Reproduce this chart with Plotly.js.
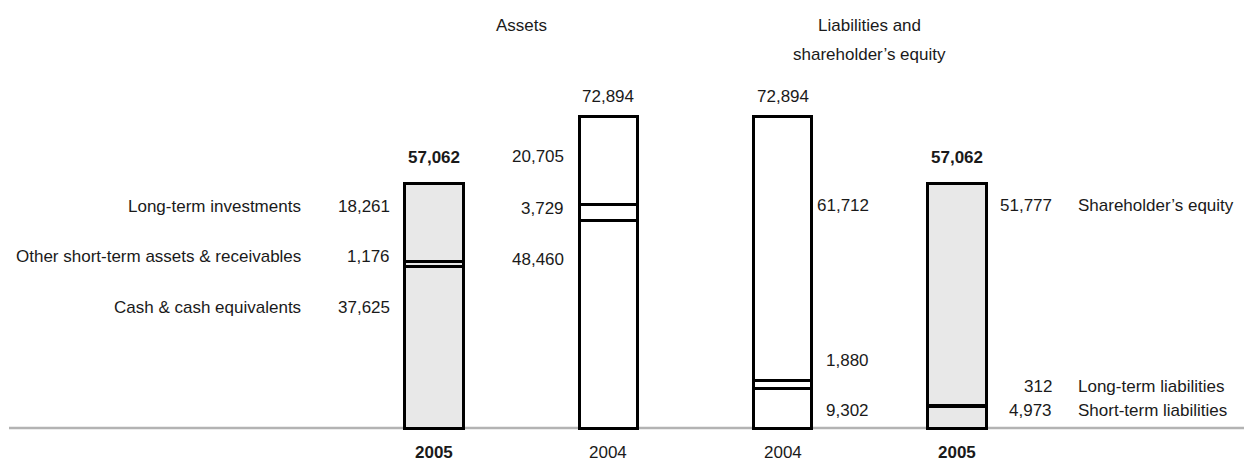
<!DOCTYPE html>
<html><head><meta charset="utf-8">
<script src="https://cdn.plot.ly/plotly-3.0.1.min.js"></script>
<style>html,body{margin:0;padding:0;background:#fff;overflow:hidden}#chart{width:1244px;height:461px}</style>
</head><body><div id="chart"></div><script>
// ---- data ----
const columnYears = ['2005', '2004', '2004', '2005'];
const assetCategories = ['Cash & cash equivalents', 'Other short-term assets & receivables', 'Long-term investments'];
const liabilityCategories = ['Short-term liabilities', 'Long-term liabilities', 'Shareholder’s equity'];
const assets2005 = [37625, 1176, 18261];
const assets2004 = [48460, 3729, 20705];
const liabilities2004 = [9302, 1880, 61712];
const liabilities2005 = [4973, 312, 51777];
const totals = [57062, 72894, 72894, 57062];
const groupTitleAssets = 'Assets';
const groupTitleLiabilities = ['Liabilities and', 'shareholder’s equity'];

// ---- drawing ----
const stacks = [assets2005, assets2004, liabilities2004, liabilities2005];
const xs = [0, 1, 2, 3];
const BW = 0.333;
const FONT = '"Liberation Sans", Arial, sans-serif';
const FS = 17;
const TXT = '#1a1a1a';
const fmt = v => v.toLocaleString('en-US');
const fills = columnYears.map(y => y === '2005' ? '#e8e8e8' : '#ffffff');

const traces = [0, 1, 2].map(s => ({
  type: 'bar',
  x: xs,
  y: stacks.map(c => c[s]),
  width: xs.map(() => BW),
  marker: { color: fills, line: { color: '#000', width: 3 } },
  hoverinfo: 'skip'
}));

const H = 461;
const py = p => 1 - p / H; // pixel row -> paper
const ann = [];
const font = (bold) => ({ family: FONT, size: FS, color: TXT, weight: bold ? 'bold' : 'normal' });

// group titles
ann.push({ x: 0.5, xref: 'x', y: py(25), yref: 'paper', text: groupTitleAssets, showarrow: false, xanchor: 'center', yanchor: 'middle', font: font(false) });
ann.push({ x: 2.5, xref: 'x', y: py(25), yref: 'paper', text: groupTitleLiabilities[0], showarrow: false, xanchor: 'center', yanchor: 'middle', font: font(false) });
ann.push({ x: 2.5, xref: 'x', y: py(55), yref: 'paper', text: groupTitleLiabilities[1], showarrow: false, xanchor: 'center', yanchor: 'middle', font: font(false) });

// totals above bars and year labels below
totals.forEach((t, i) => {
  const bold = columnYears[i] === '2005';
  ann.push({ x: i, xref: 'x', y: t, yref: 'y', text: fmt(t), showarrow: false, xanchor: 'center', yanchor: 'middle', yshift: bold ? 26 : 20, font: font(bold) });
  ann.push({ x: i, xref: 'x', y: 0, yref: 'y', text: columnYears[i], showarrow: false, xanchor: 'center', yanchor: 'middle', yshift: -24, font: font(bold) });
});

// segment value labels (pixel rows of label centres, bottom -> top segment)
const labelRows = [[307, 256, 206], [259, 208, 157], [410, 360, 205], [410, 386, 205]];
// assets: right-aligned left of bar
[0, 1].forEach(i => {
  stacks[i].forEach((v, s) => {
    ann.push({ x: i - BW / 2, xref: 'x', xshift: -13, y: py(labelRows[i][s]), yref: 'paper', text: fmt(v), showarrow: false, xanchor: 'right', yanchor: 'middle', font: font(false) });
  });
});
assetCategories.forEach((c, s) => {
  ann.push({ x: 0 - BW / 2, xref: 'x', xshift: -102, y: py(labelRows[0][s]), yref: 'paper', text: c, showarrow: false, xanchor: 'right', yanchor: 'middle', font: font(false) });
});
// liabilities: right-aligned right of bar
[[2, 59], [3, 68]].forEach(([i, sh]) => {
  stacks[i].forEach((v, s) => {
    ann.push({ x: i + BW / 2, xref: 'x', xshift: sh, y: py(labelRows[i][s]), yref: 'paper', text: fmt(v), showarrow: false, xanchor: 'right', yanchor: 'middle', font: font(false) });
  });
});
liabilityCategories.forEach((c, s) => {
  ann.push({ x: 3 + BW / 2, xref: 'x', xshift: 90, y: py(labelRows[3][s]), yref: 'paper', text: c, showarrow: false, xanchor: 'left', yanchor: 'middle', font: font(false) });
});

const k = 0.00428; // px per unit
const layout = {
  width: 1244, height: 461,
  margin: { l: 0, r: 0, t: 0, b: 0, pad: 0 },
  paper_bgcolor: '#fff', plot_bgcolor: '#fff',
  barmode: 'stack',
  showlegend: false,
  xaxis: { range: [-434 / 174.33, 810 / 174.33], visible: false, fixedrange: true },
  yaxis: { range: [-33 / k, 428 / k], visible: false, fixedrange: true },
  shapes: [{ type: 'line', xref: 'paper', x0: 9 / 1244, x1: 1, yref: 'y', y0: 0, y1: 0, line: { color: '#b3b3b3', width: 2.5 }, layer: 'below' }],
  annotations: ann,
  font: { family: FONT, color: TXT }
};
Plotly.newPlot('chart', traces, layout, { displayModeBar: false, staticPlot: true });
</script></body></html>
